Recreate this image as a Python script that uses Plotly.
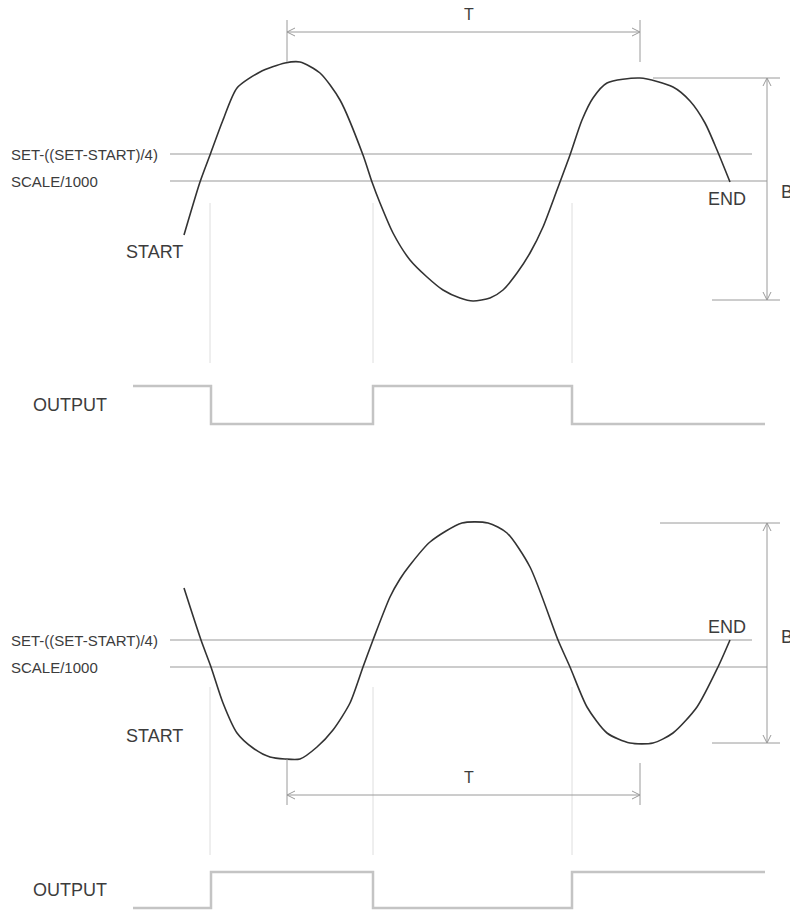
import plotly.graph_objects as go

# %%
# time axis shared by both timing diagrams
switch_t = [210, 373, 572]
out_t = [133, 211, 373, 572, 765]
out_top = [1, 0, 1, 0, 0]
out_bot = [0, 1, 0, 1, 1]

# threshold levels (signal units, SCALE/1000 = 0)
set_level = 27
scale_level = 0
line_start, set_end, scale_end = 170, 752, 767

# top diagram: signal starting below, rising first
sig1_t = [184, 200, 210, 223, 237, 260, 285, 300, 320, 340, 363, 372, 380, 393,
          410, 427, 443, 460, 473, 490, 503, 517, 530, 543, 557, 570, 582,
          593, 607, 640, 673, 690, 705, 717, 730]
sig1_v = [-54, -1, 26, 61, 93, 109, 118, 119, 108, 81, 26, -1, -22, -52,
          -79, -96, -109, -117, -120, -117, -109, -92, -72, -46, -9, 26, 61,
          83, 98, 103, 94, 80, 58, 31, -1]

# bottom diagram: signal starting above, falling first
sig2_t = [184, 201, 211, 223, 237, 253, 270, 285, 300, 317, 333, 350, 363, 373,
          390, 400, 410, 430, 462, 488, 507, 530, 558, 570, 587, 607, 630, 653,
          673, 697, 718, 730]
sig2_v = [79, 27, 0, -36, -66, -81, -90, -92, -92, -80, -63, -36, 0, 27,
          70, 88, 102, 125, 144, 144, 134, 100, 27, 0, -40, -66, -76, -76,
          -66, -40, 0, 27]

# dimensions
t_span = [287, 640]
b1_span = [103, -119]
b2_span = [144, -76]

GRAY = "#3c3c3c"
FONT = "Liberation Sans, Arial, sans-serif"

fig = go.Figure()


def seg(x, y, yaxis, color="#9a9a9a", width=1.0):
    fig.add_trace(go.Scatter(
        x=x, y=y, mode="lines", yaxis=yaxis,
        line=dict(color=color, width=width),
        hoverinfo="skip", showlegend=False
    ))


def chevron(x, y, dx, dy, yaxis):
    # open arrowhead at (x, y), (dx, dy) points back along the shaft
    px, py = -dy, dx
    xs = [x + 8 * dx + 4 * px, x, x + 8 * dx - 4 * px]
    ys = [y + 8 * dy + 4 * py, y, y + 8 * dy - 4 * py]
    seg(xs, ys, yaxis)


def label(x, y, text, yref, size, xanchor="left"):
    fig.add_annotation(
        x=x, y=y, xref="x", yref=yref, text=text, showarrow=False,
        xanchor=xanchor, yanchor="middle",
        font=dict(family=FONT, size=size, color=GRAY)
    )


def diagram(sig_t, sig_v, yaxis, out_levels, out_axis, b_span, b_left,
            t_y, t_tick, guide, start_y, end_y, b_y):

    # thresholds
    seg([line_start, set_end], [set_level, set_level], yaxis, width=1.2)
    seg([line_start, scale_end], [scale_level, scale_level], yaxis, width=1.2)

    # switching guides
    for t in switch_t:
        seg([t, t], guide, yaxis, color="#dedede", width=1)

    # signal
    fig.add_trace(go.Scatter(
        x=sig_t, y=sig_v, mode="lines", yaxis=yaxis,
        line=dict(color="#333333", width=1.6, shape="spline", smoothing=0.7),
        hoverinfo="skip", showlegend=False
    ))

    # T dimension
    seg(t_span, [t_y, t_y], yaxis)
    seg([t_span[0], t_span[0]], t_tick[0], yaxis)
    seg([t_span[1], t_span[1]], t_tick[1], yaxis)
    chevron(t_span[0], t_y, 1, 0, yaxis)
    chevron(t_span[1], t_y, -1, 0, yaxis)

    # B dimension
    seg([767, 767], b_span, yaxis)
    seg([b_left, 780], [b_span[0], b_span[0]], yaxis)
    seg([712, 780], [b_span[1], b_span[1]], yaxis)
    chevron(767, b_span[0], 0, -1, yaxis)
    chevron(767, b_span[1], 0, 1, yaxis)

    # output
    fig.add_trace(go.Scatter(
        x=out_t, y=out_levels, mode="lines", yaxis=out_axis,
        line=dict(color="#c4c4c4", width=2.5, shape="hv"),
        hoverinfo="skip", showlegend=False
    ))

    # labels
    label(9, set_level, "SET-((SET-START)/4)", yaxis, 15)
    label(9, scale_level, "SCALE/1000", yaxis, 15)
    label(154, start_y, "START", yaxis, 18, xanchor="center")
    label(727, end_y, "END", yaxis, 18, xanchor="center")
    label(469, t_y + 18, "T", yaxis, 16, xanchor="center")
    label(779, b_y, "B", yaxis, 18)
    label(70, 0.5, "OUTPUT", out_axis, 18, xanchor="center")


diagram(sig1_t, sig1_v, "y", out_top, "y2", b1_span, 653, 149,
        [[161, 119], [161, 119]], [-22, -182], -71, -18, -11)
diagram(sig2_t, sig2_v, "y3", out_bot, "y4", b2_span, 660, -128,
        [[-92, -138], [-96, -138]], [-20, -188], -69, 40, 30)

hidden = dict(visible=False, fixedrange=True)
fig.update_layout(
    width=790,
    height=916,
    margin=dict(l=0, r=0, t=0, b=0),
    paper_bgcolor="white",
    plot_bgcolor="white",
    xaxis=dict(range=[0, 790], domain=[0, 1], **hidden),
    yaxis=dict(range=[-735, 181], domain=[0, 1], **hidden),
    yaxis2=dict(range=[-12.947, 11.158], overlaying="y", **hidden),
    yaxis3=dict(range=[-249, 667], overlaying="y", **hidden),
    yaxis4=dict(range=[-0.222, 25.222], overlaying="y", **hidden),
)

fig.write_html(
    "out.html",
    config={"displayModeBar": False},
    post_script="document.body.style.margin = '0px';",
)
